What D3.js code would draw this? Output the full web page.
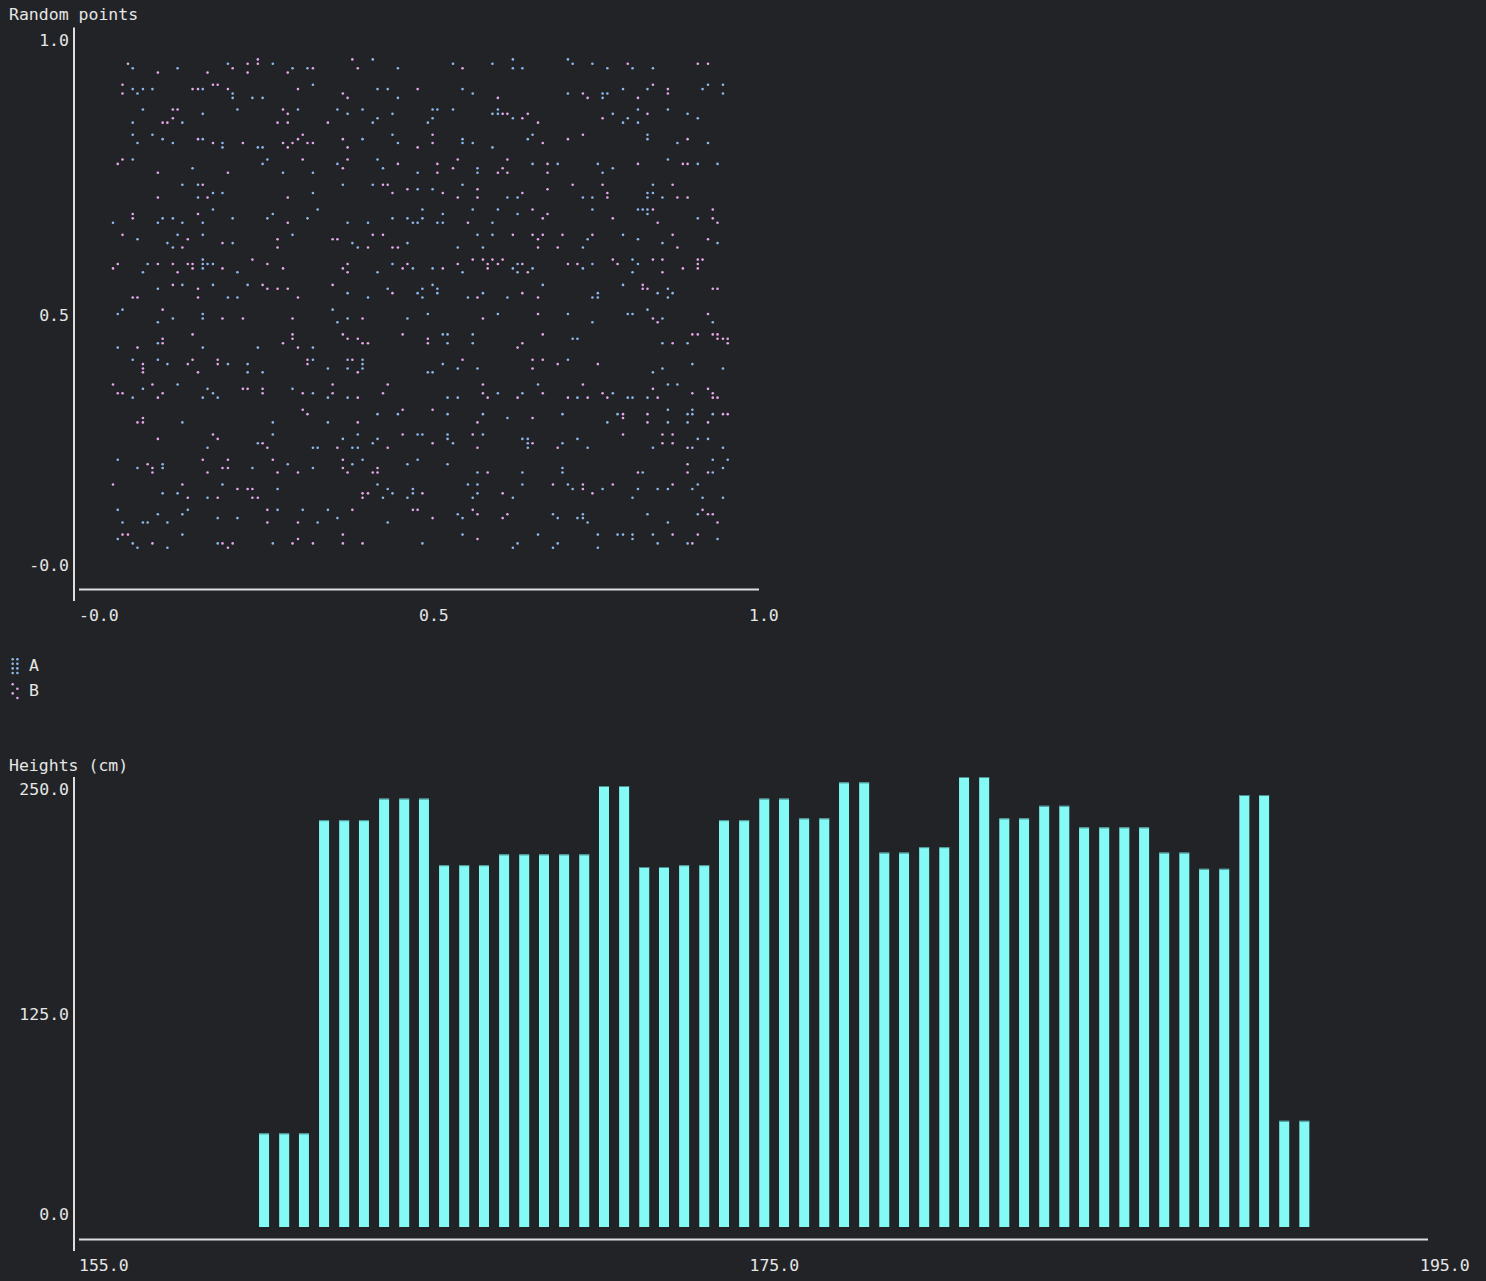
<!DOCTYPE html>
<html><head><meta charset="utf-8">
<script src="https://cdn.jsdelivr.net/npm/d3@7"></script>
<style>
html,body{margin:0;padding:0;background:#212327;}
svg{display:block;}
text{font-family:"DejaVu Sans Mono",monospace;font-size:16.5px;fill:#e6e6e6;}
</style></head><body>
<svg id="chart" width="1486" height="1281"></svg>
<script>
// ---------------- DATA ----------------
const scatterTitle = "Random points";
const seriesNames = ["A", "B"];
const seriesColors = ["#8db8ee", "#e9a6ea"];

const pointsA = [
[.432,.942],[.638,.942],[.719,.942],
[.219,.934],[.285,.934],[.550,.934],[.608,.934],[.726,.934],[.755,.934],
[.079,.926],[.145,.926],[.314,.926],[.336,.926],[.469,.926],[.638,.926],[.652,.926],[.777,.926],[.814,.926],[.844,.926],
[.344,.896],[.925,.896],[.947,.896],
[.079,.888],[.094,.888],[.108,.888],[.182,.888],[.439,.888],[.454,.888],[.564,.888],[.800,.888],[.836,.888],[.917,.888],
[.086,.880],[.226,.880],[.579,.880],[.719,.880],[.770,.880],[.777,.880],[.947,.880],
[.226,.872],[.255,.872],[.270,.872],[.469,.872],[.770,.872],
[.094,.851],[.233,.851],[.322,.851],[.380,.851],[.417,.851],[.520,.851],[.527,.851],[.550,.851],[.616,.851],[.822,.851],[.866,.851],
[.182,.843],[.395,.843],[.461,.843],[.608,.843],[.616,.843],[.785,.843],[.895,.843],
[.439,.835],[.520,.835],[.638,.835],[.807,.835],[.910,.835],
[.079,.827],[.152,.827],[.432,.827],[.513,.827],[.800,.827],[.822,.827],
[.079,.805],[.108,.805],[.461,.805],[.667,.805],[.836,.805],
[.123,.797],[.182,.797],[.417,.797],[.564,.797],[.660,.797],[.836,.797],
[.086,.790],[.138,.790],[.211,.790],[.469,.790],[.564,.790],[.579,.790],[.880,.790],[.925,.790],
[.211,.782],[.263,.782],[.270,.782],[.608,.782],
[.079,.760],[.277,.760],[.439,.760],[.866,.760],
[.270,.752],[.380,.752],[.667,.752],[.704,.752],[.763,.752],[.910,.752],[.939,.752],
[.167,.744],[.447,.744],[.586,.744],[.785,.744],
[.300,.736],[.344,.736],[.498,.736],[.586,.736],[.770,.736],
[.152,.714],[.175,.714],[.388,.714],[.432,.714],[.564,.714],[.844,.714],
[.498,.706],[.520,.706],
[.197,.699],[.211,.699],[.344,.699],[.836,.699],[.844,.699],
[.175,.691],[.630,.691],[.645,.691],[.741,.691],[.755,.691],[.836,.691],[.858,.691],
[.197,.669],[.351,.669],[.505,.669],[.579,.669],[.616,.669],[.755,.669],[.822,.669],[.829,.669],[.836,.669],
[.285,.661],[.535,.661],[.645,.661],[.836,.661],
[.123,.653],[.138,.653],[.226,.653],[.277,.653],[.336,.653],[.461,.653],[.483,.653],[.505,.653],[.910,.653],
[.050,.645],[.116,.645],[.152,.645],[.182,.645],[.395,.645],[.425,.645],[.491,.645],[.498,.645],[.527,.645],[.535,.645],[.608,.645],
[.145,.623],[.182,.623],[.314,.623],[.586,.623],[.608,.623],[.800,.623],
[.086,.615],[.748,.615],[.822,.615],
[.130,.608],[.226,.608],[.402,.608],[.483,.608],[.858,.608],[.939,.608],
[.138,.600],[.410,.600],[.557,.600],[.594,.600],[.741,.600],
[.182,.578],[.814,.578],
[.101,.570],[.182,.570],[.189,.570],[.197,.570],[.461,.570],[.645,.570],[.755,.570],[.822,.570],
[.182,.562],[.491,.562],[.520,.562],[.638,.562],[.667,.562],[.741,.562],
[.094,.555],[.233,.555],[.439,.555],[.564,.555],[.645,.555],[.814,.555],
[.152,.532],[.197,.532],[.248,.532],[.520,.532],[.682,.532],[.800,.532],
[.116,.525],[.454,.525],[.505,.525],[.527,.525],[.866,.525],
[.395,.517],[.498,.517],[.527,.517],[.594,.517],[.763,.517],[.851,.517],[.873,.517],
[.219,.509],[.233,.509],[.425,.509],[.505,.509],[.572,.509],[.630,.509],[.755,.509],[.763,.509],[.866,.509],
[.064,.487],[.373,.487],[.836,.487],
[.057,.479],[.182,.479],[.513,.479],[.616,.479],[.719,.479],[.807,.479],[.814,.479],
[.138,.471],[.182,.471],[.395,.471],[.483,.471],[.858,.471],
[.116,.464],[.380,.464],[.755,.464],[.932,.464],
[.535,.442],[.542,.442],[.579,.442],
[.726,.434],[.733,.434],
[.116,.426],[.542,.426],[.579,.426],[.858,.426],[.895,.426],
[.057,.418],[.182,.418],[.263,.418],[.344,.418],
[.079,.396],[.116,.396],[.344,.396],[.395,.396],[.417,.396],[.719,.396],
[.130,.388],[.219,.388],[.248,.388],[.417,.388],[.535,.388],[.902,.388],
[.366,.380],[.395,.380],[.417,.380],[.557,.380],[.586,.380],[.858,.380],[.947,.380],
[.248,.373],[.270,.373],[.513,.373],[.520,.373],[.844,.373],
[.145,.351],[.675,.351],[.866,.351],[.880,.351],
[.094,.343],[.189,.343],[.314,.343],
[.197,.335],[.344,.335],[.616,.335],[.652,.335],[.785,.335],
[.079,.327],[.182,.327],[.204,.327],[.366,.327],[.395,.327],[.542,.327],[.557,.327],[.733,.327],[.807,.327],[.814,.327],[.836,.327],
[.866,.305],[.902,.305],
[.439,.297],[.469,.297],[.542,.297],[.594,.297],[.711,.297],[.792,.297],[.895,.297],[.902,.297],[.932,.297],
[.630,.290],
[.152,.282],[.285,.282],[.366,.282],[.777,.282],[.866,.282],[.895,.282],
[.285,.260],[.410,.260],[.498,.260],[.505,.260],[.542,.260],[.594,.260],
[.388,.252],[.439,.252],[.542,.252],[.652,.252],[.660,.252],[.733,.252],[.910,.252],[.925,.252],
[.263,.244],[.432,.244],[.550,.244],[.660,.244],[.711,.244],
[.189,.236],[.344,.236],[.351,.236],[.402,.236],[.410,.236],[.660,.236],[.748,.236],[.844,.236],[.902,.236],[.947,.236],
[.057,.214],[.417,.214],[.498,.214],[.932,.214],[.954,.214],
[.123,.206],[.307,.206],[.402,.206],[.483,.206],[.542,.206],
[.086,.199],[.123,.199],[.255,.199],[.344,.199],[.711,.199],[.947,.199],
[.586,.191],[.652,.191],[.711,.191],[.829,.191],[.932,.191],
[.211,.169],[.439,.169],[.572,.169],[.586,.169],[.652,.169],[.719,.169],[.910,.169],
[.292,.161],[.454,.161],[.491,.161],[.726,.161],[.770,.161],[.822,.161],[.851,.161],[.866,.161],[.902,.161],
[.123,.153],[.145,.153],[.461,.153],[.491,.153],[.586,.153],
[.189,.145],[.447,.145],[.483,.145],[.579,.145],[.638,.145],[.814,.145],[.917,.145],[.947,.145],
[.057,.123],[.160,.123],[.292,.123],[.329,.123],[.366,.123],
[.116,.115],[.152,.115],[.557,.115],[.697,.115],[.741,.115],[.836,.115],[.910,.115],
[.204,.108],[.233,.108],[.380,.108],[.564,.108],[.704,.108],[.733,.108],[.741,.108],
[.064,.100],[.094,.100],[.101,.100],[.130,.100],[.351,.100],[.454,.100],[.748,.100],[.866,.100],
[.152,.078],[.564,.078],[.675,.078],[.763,.078],[.792,.078],[.800,.078],[.814,.078],[.844,.078],
[.057,.070],[.814,.070],[.939,.070],
[.079,.062],[.204,.062],[.285,.062],[.505,.062],[.645,.062],[.704,.062],[.851,.062],[.895,.062],
[.086,.054],[.130,.054],[.638,.054],[.697,.054],[.763,.054]
];

const pointsB = [
[.263,.942],[.402,.942],
[.072,.934],[.248,.934],[.263,.934],[.807,.934],[.910,.934],[.925,.934],
[.226,.926],[.344,.926],[.410,.926],[.564,.926],
[.116,.918],[.189,.918],[.248,.918],[.307,.918],
[.064,.896],[.197,.896],[.204,.896],[.844,.896],
[.167,.888],[.175,.888],[.219,.888],[.322,.888],[.498,.888],[.866,.888],
[.064,.880],[.388,.880],[.741,.880],[.866,.880],
[.395,.872],[.616,.872],[.748,.872],[.822,.872],
[.138,.851],[.145,.851],[.300,.851],
[.307,.843],[.623,.843],[.630,.843],[.660,.843],[.836,.843],
[.138,.835],[.652,.835],[.770,.835],
[.123,.827],[.130,.827],[.292,.827],[.307,.827],[.366,.827],[.675,.827],
[.329,.805],[.520,.805],[.741,.805],
[.175,.797],[.322,.797],[.388,.797],[.719,.797],[.895,.797],
[.197,.790],[.241,.790],[.300,.790],[.314,.790],[.336,.790],[.344,.790],[.520,.790],[.682,.790],
[.307,.782],[.395,.782],[.498,.782],
[.064,.760],[.329,.760],[.395,.760],[.557,.760],[.630,.760],
[.057,.752],[.469,.752],[.527,.752],[.689,.752],[.822,.752],[.888,.752],[.895,.752],
[.388,.744],[.550,.744],[.623,.744],
[.116,.736],[.219,.736],[.527,.736],[.616,.736],[.630,.736],[.689,.736],
[.182,.714],[.447,.714],[.454,.714],[.726,.714],[.770,.714],[.873,.714],
[.483,.706],[.586,.706],[.689,.706],
[.461,.699],[.535,.699],[.652,.699],[.777,.699],
[.116,.691],[.189,.691],[.307,.691],[.557,.691],[.586,.691],[.777,.691],[.880,.691],[.895,.691],
[.667,.669],[.844,.669],[.932,.669],
[.079,.661],[.175,.661],[.689,.661],
[.079,.653],[.682,.653],[.785,.653],[.932,.653],
[.307,.645],[.572,.645],[.851,.645],[.939,.645],
[.064,.623],[.432,.623],[.447,.623],[.638,.623],[.667,.623],[.682,.623],[.711,.623],[.755,.623],[.873,.623],
[.160,.615],[.292,.615],[.373,.615],[.380,.615],[.675,.615],[.925,.615],
[.211,.608],
[.152,.600],[.292,.600],[.425,.600],[.461,.600],[.469,.600],[.675,.600],[.704,.600],[.880,.600],
[.255,.578],[.579,.578],[.594,.578],[.608,.578],[.623,.578],[.785,.578],[.844,.578],[.858,.578],[.910,.578],[.917,.578],
[.057,.570],[.116,.570],[.138,.570],[.160,.570],[.167,.570],[.277,.570],[.395,.570],[.483,.570],[.557,.570],[.601,.570],[.616,.570],[.652,.570],[.719,.570],[.733,.570],[.792,.570],[.910,.570],
[.050,.562],[.167,.562],[.211,.562],[.300,.562],[.388,.562],[.476,.562],[.535,.562],[.601,.562],[.888,.562],[.910,.562],
[.145,.555],[.395,.555],[.660,.555],[.858,.555],
[.138,.532],[.270,.532],[.373,.532],[.829,.532],
[.175,.525],[.277,.525],[.292,.525],[.307,.525],[.829,.525],[.836,.525],[.932,.525],[.939,.525],
[.461,.517],[.652,.517],
[.079,.509],[.086,.509],[.175,.509],[.322,.509],[.586,.509],[.675,.509],
[.123,.487],
[.675,.479],[.925,.479],
[.211,.471],[.241,.471],[.314,.471],[.417,.471],[.594,.471],[.844,.471],
[.851,.464],
[.167,.442],[.314,.442],[.388,.442],[.476,.442],[.682,.442],[.902,.442],[.910,.442],[.932,.442],[.939,.442],
[.123,.434],[.314,.434],[.395,.434],[.410,.434],[.513,.434],[.939,.434],[.947,.434],[.954,.434],
[.123,.426],[.300,.426],[.417,.426],[.425,.426],[.513,.426],[.652,.426],[.873,.426],[.954,.426],
[.086,.418],[.322,.418],[.645,.418],
[.167,.396],[.204,.396],[.336,.396],[.402,.396],[.564,.396],[.667,.396],[.682,.396],
[.094,.388],[.160,.388],[.204,.388],[.336,.388],[.704,.388],[.763,.388],
[.094,.380],[.667,.380],
[.094,.373],[.175,.373],[.410,.373],
[.050,.351],[.108,.351],[.373,.351],[.454,.351],[.594,.351],[.741,.351],
[.241,.343],[.248,.343],[.270,.343],[.844,.343],[.925,.343],
[.057,.335],[.064,.335],[.123,.335],[.270,.335],[.329,.335],[.373,.335],[.447,.335],[.594,.335],[.682,.335],[.770,.335],[.902,.335],[.932,.335],
[.116,.327],[.410,.327],[.601,.327],[.645,.327],[.719,.327],[.748,.327],[.777,.327],[.851,.327],[.932,.327],[.939,.327],
[.329,.305],[.476,.305],[.520,.305],
[.336,.297],[.800,.297],[.836,.297],[.947,.297],[.954,.297],
[.094,.290],[.667,.290],[.800,.290],
[.086,.282],[.094,.282],[.410,.282],[.586,.282],[.836,.282],[.925,.282],
[.197,.260],[.476,.260],[.579,.260],[.800,.260],[.858,.260],[.873,.260],
[.116,.252],[.204,.252],
[.270,.244],[.520,.244],[.667,.244],[.858,.244],[.873,.244],
[.277,.236],[.380,.236],[.454,.236],[.586,.236],[.704,.236],[.895,.236],
[.182,.214],[.219,.214],[.285,.214],[.388,.214],
[.101,.206],[.895,.206],
[.108,.199],[.211,.199],[.219,.199],[.388,.199],[.439,.199],
[.108,.191],[.189,.191],[.292,.191],[.322,.191],[.395,.191],[.432,.191],[.439,.191],[.601,.191],[.822,.191],[.895,.191],[.925,.191],
[.050,.169],[.152,.169],[.697,.169],[.741,.169],[.785,.169],[.873,.169],
[.233,.161],[.248,.161],[.255,.161],[.741,.161],
[.417,.153],[.425,.153],[.505,.153],[.623,.153],[.755,.153],
[.160,.145],[.204,.145],[.255,.145],[.263,.145],[.417,.145],
[.277,.123],[.402,.123],[.491,.123],[.498,.123],[.579,.123],[.917,.123],
[.586,.115],[.630,.115],[.925,.115],[.932,.115],
[.520,.108],[.623,.108],
[.277,.100],[.322,.100],[.939,.100],
[.064,.078],[.072,.078],[.388,.078],[.873,.078],[.910,.078],
[.322,.070],[.586,.070],
[.108,.062],[.211,.062],[.226,.062],[.314,.062],[.344,.062],[.388,.062],[.417,.062],[.902,.062],
[.219,.054]
];

const scatterTicks = [0, 0.5, 1.0];
const scatterTickLabels = ["-0.0", "0.5", "1.0"];

const barTitle = "Heights (cm)";
const heightBins = [160.52,161.12,161.71,162.31,162.91,163.50,164.10,164.70,165.29,165.89,
  166.49,167.08,167.68,168.28,168.87,169.47,170.07,170.66,171.26,171.86,
  172.45,173.05,173.65,174.24,174.84,175.44,176.03,176.63,177.23,177.82,
  178.42,179.02,179.61,180.21,180.81,181.40,182.00,182.60,183.19,183.79,
  184.39,184.98,185.58,186.18,186.77,187.37,187.97,188.56,189.16,189.76,
  190.35,190.95,191.55];
const heightCounts = [52,52,52,226,226,226,238,238,238,201,
  201,201,207,207,207,207,207,245,245,200,
  200,201,201,226,226,238,238,227,227,247,
  247,208,208,211,211,250,250,227,227,234,
  234,222,222,222,222,208,208,199,199,240,
  240,59,59];
const barYTicks = [0, 125, 250];
const barYTickLabels = ["0.0", "125.0", "250.0"];
const barXTicks = [155, 175, 195];
const barXTickLabels = ["155.0", "175.0", "195.0"];

// ---------------- DRAW ----------------
const svg = d3.select("#chart");
svg.append("rect").attr("width", 1486).attr("height", 1281).attr("fill", "#212327");
const AXIS = "#dedede";

// ---- scatter ----
const sx = d3.scaleLinear().domain([0, 1]).range([79, 759]);
const sy = d3.scaleLinear().domain([0, 1]).range([577.5, 27.5]);

svg.append("text").attr("x", 9).attr("y", 14).attr("dy", "0.35em").text(scatterTitle);

const sg = svg.append("g");
[pointsA, pointsB].forEach((pts, si) => {
  sg.append("g").selectAll("circle").data(pts).join("circle")
    .attr("cx", d => sx(d[0])).attr("cy", d => sy(d[1]))
    .attr("r", 1.3).attr("fill", seriesColors[si]);
});

svg.append("line").attr("x1", 74).attr("x2", 74).attr("y1", sy(1)).attr("y2", 601)
  .attr("stroke", AXIS).attr("stroke-width", 2);
svg.append("line").attr("x1", sx(0)).attr("x2", sx(1)).attr("y1", 589.5).attr("y2", 589.5)
  .attr("stroke", AXIS).attr("stroke-width", 2);

svg.append("g").selectAll("text").data(scatterTicks).join("text")
  .attr("x", 69).attr("text-anchor", "end")
  .attr("y", d => Math.min(sy(d) + 12.5, sy(0) - 12.5)).attr("dy", "0.35em")
  .text((d, i) => scatterTickLabels[i]);
svg.append("g").selectAll("text").data(scatterTicks).join("text")
  .attr("x", d => Math.min(sx(d), sx(1) - 10)).attr("y", 615).attr("dy", "0.35em")
  .text((d, i) => scatterTickLabels[i]);

// ---- legend ----
const legend = svg.append("g");
const braille = [
  [[0,0],[1,0],[0,1],[1,1],[0,2],[1,2],[0,3],[1,3]],
  [[0,0],[1,1],[0,2],[1,3]]
];
seriesNames.forEach((name, i) => {
  const cy = 665 + i * 25;
  legend.append("g").selectAll("circle").data(braille[i]).join("circle")
    .attr("cx", d => 12.7 + d[0] * 4.7).attr("cy", d => cy - 5.8 + d[1] * 4.6)
    .attr("r", 1.3).attr("fill", seriesColors[i]);
  legend.append("text").attr("x", 29).attr("y", cy).attr("dy", "0.35em").text(name);
});

// ---- bars ----
const bx = d3.scaleLinear().domain([155, 195]).range([79, 1420]);
const by = d3.scaleLinear().domain([0, 250]).range([1227, 777]);

svg.append("text").attr("x", 9).attr("y", 765).attr("dy", "0.35em").text(barTitle);

const bars = svg.append("g");
bars.selectAll("rect.bar").data(heightCounts).join("rect").attr("class", "bar")
  .attr("x", (d, i) => bx(heightBins[i]) - 5).attr("width", 10)
  .attr("y", d => by(d)).attr("height", d => by(0) - by(d))
  .attr("fill", "#83faf6");
bars.selectAll("rect.edge").data(heightCounts).join("rect").attr("class", "edge")
  .attr("x", (d, i) => bx(heightBins[i]) - 5).attr("width", 10)
  .attr("y", d => by(d)).attr("height", 1)
  .attr("fill", "#4a8f90");

svg.append("line").attr("x1", 74).attr("x2", 74).attr("y1", by(250)).attr("y2", 1251)
  .attr("stroke", AXIS).attr("stroke-width", 2);
svg.append("line").attr("x1", 79).attr("x2", 1428).attr("y1", 1239.5).attr("y2", 1239.5)
  .attr("stroke", AXIS).attr("stroke-width", 2);

svg.append("g").selectAll("text").data(barYTicks).join("text")
  .attr("x", 69).attr("text-anchor", "end")
  .attr("y", d => Math.min(by(d) + 12.5, by(0) - 12.5)).attr("dy", "0.35em")
  .text((d, i) => barYTickLabels[i]);
svg.append("g").selectAll("text").data(barXTicks).join("text")
  .attr("x", d => bx(d)).attr("y", 1265).attr("dy", "0.35em")
  .text((d, i) => barXTickLabels[i]);
</script>
</body></html>
